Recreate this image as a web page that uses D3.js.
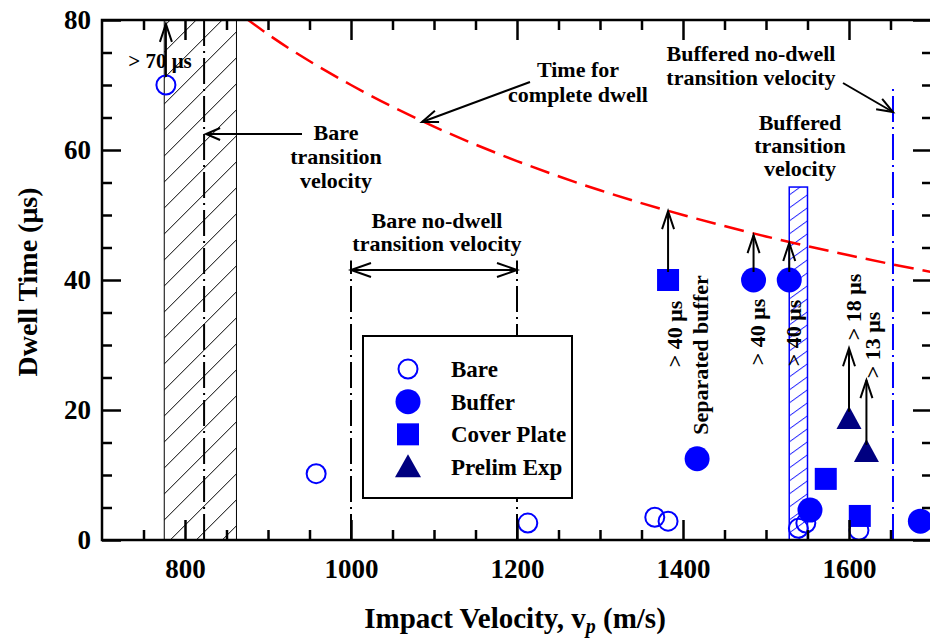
<!DOCTYPE html>
<html>
<head>
<meta charset="utf-8">
<script src="https://cdn.jsdelivr.net/npm/d3@7"></script>
<style>
  body { margin: 0; background: #fff; }
  text { font-family: "Liberation Serif", "Times New Roman", serif; font-weight: bold; }
</style>
</head>
<body>
<svg id="chart"></svg>
<script>
// values
const bareV = [777, 958, 1213, 1366, 1382, 1539, 1548, 1612];
const bareT = [70, 10.2, 2.6, 3.5, 2.9, 1.8, 2.6, 1.5];
const bufferV = [1417, 1485, 1528, 1553, 1686];
const bufferT = [12.5, 40, 40, 4.6, 2.9];
const coverV = [1382, 1572, 1613];
const coverT = [40, 9.4, 3.7];
const prelimV = [1600, 1621];
const prelimT = [18.5, 13.4];

// "time for complete dwell" curve
const dwellCurveV = [876, 900, 1000, 1100, 1200, 1300, 1400, 1500, 1600, 1700];
const dwellCurveT = [80, 77.8, 70, 63.6, 58.3, 53.8, 50, 46.7, 43.8, 41.2];

// lower-bound arrows: start value, top of arrow
const boundV = [777, 1382, 1485, 1528, 1600, 1621];
const boundFrom = [70, 40, 40, 40, 18.5, 13.4];
const boundTo = [79.4, 50.6, 46.9, 45.7, 29.5, 24.6];

const bareBand = [775, 862];
const bareTransition = 823;
const bareNoDwell = [1000, 1200];
const bareNoDwellTop = 43;
const bufferedBand = [1528, 1550];
const bufferedBandTop = 54.3;
const bufferedNoDwell = 1653;
const bufferedNoDwellTop = 70;

const xMajor = [800, 1000, 1200, 1400, 1600];
const xMinor = [750, 850, 900, 950, 1050, 1100, 1150, 1250, 1300, 1350, 1450, 1500, 1550, 1650];
const yMajor = [0, 20, 40, 60, 80];
const yMinor = [5, 10, 15, 25, 30, 35, 45, 50, 55, 65, 70, 75];

const legendNames = ["Bare", "Buffer", "Cover Plate", "Prelim Exp"];

const WIDTH = 930, HEIGHT = 640;
const BLUE = "#0000ff", NAVY = "#000080";

let svg = d3.select("#chart")
  .attr("width", WIDTH)
  .attr("height", HEIGHT);

let x = d3.scaleLinear().domain([700, 1700]).range([102, 932]);
let y = d3.scaleLinear().domain([0, 80]).range([540, 20]);

// hatch patterns
let defs = svg.append("defs");
defs.append("pattern")
  .attr("id", "hatchBlack")
  .attr("patternUnits", "userSpaceOnUse")
  .attr("x", x(bareBand[0])).attr("y", 0)
  .attr("width", 26).attr("height", 26)
.append("path")
  .attr("d", "M-2,2L2,-2M0,26L26,0M24,28L28,24")
  .style("stroke", "black")
  .style("stroke-width", 1);

defs.append("pattern")
  .attr("id", "hatchBlue")
  .attr("patternUnits", "userSpaceOnUse")
  .attr("x", x(bufferedBand[0])).attr("y", 0)
  .attr("width", 18).attr("height", 13)
.append("path")
  .attr("d", "M-2,1.4L2,-1.4M0,13L18,0M16,14.4L20,11.6")
  .style("stroke", BLUE)
  .style("stroke-width", 1);

defs.append("clipPath")
  .attr("id", "plotClip")
.append("rect")
  .attr("x", x(700)).attr("y", y(80))
  .attr("width", x(1700) - x(700)).attr("height", y(0) - y(80));

let plot = svg.append("g").attr("clip-path", "url(#plotClip)");

// bare transition band
plot.append("rect")
  .attr("x", x(bareBand[0]))
  .attr("y", y(80))
  .attr("width", x(bareBand[1]) - x(bareBand[0]))
  .attr("height", y(0) - y(80))
  .style("fill", "url(#hatchBlack)")
  .style("stroke", "black")
  .style("stroke-width", 1);

// buffered transition band
plot.append("rect")
  .attr("x", x(bufferedBand[0]))
  .attr("y", y(bufferedBandTop))
  .attr("width", x(bufferedBand[1]) - x(bufferedBand[0]))
  .attr("height", y(0) - y(bufferedBandTop))
  .style("fill", "url(#hatchBlue)")
  .style("stroke", BLUE)
  .style("stroke-width", 1.5);

// dash-dot lines
const dashDot = "26,5,2,5";
plot.append("line")
  .attr("x1", x(bareTransition)).attr("x2", x(bareTransition))
  .attr("y1", y(0)).attr("y2", y(80))
  .style("stroke", "black").style("stroke-width", 2)
  .style("stroke-dasharray", dashDot);

plot.selectAll(".noDwell")
  .data(bareNoDwell)
.enter().append("line")
  .attr("class", "noDwell")
  .attr("x1", d => x(d)).attr("x2", d => x(d))
  .attr("y1", y(0)).attr("y2", y(bareNoDwellTop))
  .style("stroke", "black").style("stroke-width", 2)
  .style("stroke-dasharray", dashDot);

plot.append("line")
  .attr("x1", x(bufferedNoDwell)).attr("x2", x(bufferedNoDwell))
  .attr("y1", y(0)).attr("y2", y(bufferedNoDwellTop))
  .style("stroke", BLUE).style("stroke-width", 2)
  .style("stroke-dasharray", dashDot);

// complete dwell curve
plot.append("path")
  .datum(dwellCurveV.map((v, i) => [v, dwellCurveT[i]]))
  .attr("d", d3.line().x(d => x(d[0])).y(d => y(d[1])).curve(d3.curveMonotoneX))
  .style("fill", "none")
  .style("stroke", "red")
  .style("stroke-width", 2.5)
  .style("stroke-dasharray", "20,9");

// arrow helper: open V head at (x2, y2)
function arrow(g, x1, y1, x2, y2, len, half) {
  let a = Math.atan2(y2 - y1, x2 - x1);
  let bx = x2 - len * Math.cos(a), by = y2 - len * Math.sin(a);
  let px = -Math.sin(a) * half, py = Math.cos(a) * half;
  g.append("line")
    .attr("x1", x1).attr("y1", y1).attr("x2", x2).attr("y2", y2)
    .style("stroke", "black").style("stroke-width", 2);
  g.append("path")
    .attr("d", "M" + (bx + px) + "," + (by + py) + "L" + x2 + "," + y2 + "L" + (bx - px) + "," + (by - py))
    .style("fill", "none").style("stroke", "black").style("stroke-width", 2);
}

let notes = svg.append("g");

// lower-bound arrows
boundV.forEach((v, i) => {
  arrow(notes, x(v), y(boundFrom[i]) - 8, x(v), y(boundTo[i]), 18, 6);
});

// markers
function trianglePath(w, h) {
  return "M0," + (-h * 0.6) + "L" + (w / 2) + "," + (h * 0.4) + "L" + (-w / 2) + "," + (h * 0.4) + "Z";
}

plot.selectAll(".bare")
  .data(bareV.map((v, i) => [v, bareT[i]]))
.enter().append("circle")
  .attr("class", "bare")
  .attr("cx", d => x(d[0])).attr("cy", d => y(d[1]))
  .attr("r", 9.5)
  .style("fill", "none").style("stroke", BLUE).style("stroke-width", 2);

plot.selectAll(".buffer")
  .data(bufferV.map((v, i) => [v, bufferT[i]]))
.enter().append("circle")
  .attr("class", "buffer")
  .attr("cx", d => x(d[0])).attr("cy", d => y(d[1]))
  .attr("r", 12.5)
  .style("fill", BLUE);

plot.selectAll(".cover")
  .data(coverV.map((v, i) => [v, coverT[i]]))
.enter().append("rect")
  .attr("class", "cover")
  .attr("x", d => x(d[0]) - 11).attr("y", d => y(d[1]) - 11)
  .attr("width", 22).attr("height", 22)
  .style("fill", BLUE);

plot.selectAll(".prelim")
  .data(prelimV.map((v, i) => [v, prelimT[i]]))
.enter().append("path")
  .attr("class", "prelim")
  .attr("transform", d => "translate(" + x(d[0]) + "," + y(d[1]) + ")")
  .attr("d", trianglePath(25, 23))
  .style("fill", NAVY);

// frame and axes
function styleAxis(g) {
  g.select(".domain").remove();
  g.selectAll(".tick line").style("stroke", "black").style("stroke-width", 2.5);
  g.selectAll(".tick text")
    .style("font-family", "'Liberation Serif', 'Times New Roman', serif")
    .style("font-weight", "bold")
    .style("font-size", "27px")
    .style("fill", "black");
}

svg.append("g").attr("transform", "translate(0," + y(0) + ")")
  .call(d3.axisBottom(x).tickValues(xMinor).tickSize(-10).tickFormat(""))
  .call(styleAxis);
svg.append("g").attr("transform", "translate(0," + y(0) + ")")
  .call(d3.axisBottom(x).tickValues(xMajor).tickSize(-20).tickPadding(19).tickFormat(d3.format("d")))
  .call(styleAxis);
svg.append("g").attr("transform", "translate(0," + y(80) + ")")
  .call(d3.axisTop(x).tickValues(xMinor).tickSize(-10).tickFormat(""))
  .call(styleAxis);
svg.append("g").attr("transform", "translate(0," + y(80) + ")")
  .call(d3.axisTop(x).tickValues(xMajor).tickSize(-20).tickFormat(""))
  .call(styleAxis);

svg.append("g").attr("transform", "translate(" + x(700) + ",0)")
  .call(d3.axisLeft(y).tickValues(yMinor).tickSize(-10).tickFormat(""))
  .call(styleAxis);
svg.append("g").attr("transform", "translate(" + x(700) + ",0)")
  .call(d3.axisLeft(y).tickValues(yMajor).tickSize(-19).tickPadding(11).tickFormat(d3.format("d")))
  .call(styleAxis);
svg.append("g").attr("transform", "translate(" + x(1700) + ",0)")
  .call(d3.axisRight(y).tickValues(yMinor).tickSize(-10).tickFormat(""))
  .call(styleAxis);
svg.append("g").attr("transform", "translate(" + x(1700) + ",0)")
  .call(d3.axisRight(y).tickValues(yMajor).tickSize(-19).tickFormat(""))
  .call(styleAxis);

svg.append("rect")
  .attr("x", x(700)).attr("y", y(80))
  .attr("width", x(1700) - x(700)).attr("height", y(0) - y(80))
  .style("fill", "none").style("stroke", "black").style("stroke-width", 2.5);

// axis titles
let xTitle = svg.append("text")
  .attr("x", 515).attr("y", 628)
  .attr("text-anchor", "middle")
  .style("font-size", "29px");
xTitle.append("tspan").text("Impact Velocity, v");
xTitle.append("tspan").attr("dy", 5).style("font-size", "20px").style("font-style", "italic").text("p");
xTitle.append("tspan").attr("dy", -5).text(" (m/s)");

svg.append("text")
  .attr("transform", "translate(37,282) rotate(-90)")
  .attr("text-anchor", "middle")
  .style("font-size", "28px")
  .text("Dwell Time (\u03bcs)");

// annotations
function label(lines, cx, baseline, step, size) {
  lines.forEach((t, i) => {
    notes.append("text")
      .attr("x", cx).attr("y", baseline + i * step)
      .attr("text-anchor", "middle")
      .style("font-size", size + "px")
      .text(t);
  });
}

function vlabel(t, cx, cy) {
  notes.append("text")
    .attr("transform", "translate(" + cx + "," + cy + ") rotate(-90)")
    .attr("text-anchor", "middle")
    .attr("dy", "0.35em")
    .style("font-size", "22px")
    .text(t);
}

label(["> 70 \u03bcs"], 160, 68, 0, 21);
label(["Bare", "transition", "velocity"], 336, 140, 24, 22);
arrow(notes, 302, 134, x(bareTransition) + 2, 134, 14, 6);

label(["Time for", "complete dwell"], 578, 77, 25, 22);
arrow(notes, 530, 82, 422, 122, 16, 6);

label(["Bare no-dwell", "transition velocity"], 437, 228, 23, 22);
arrow(notes, x(bareNoDwell[0]) + 10, 270, x(bareNoDwell[1]), 270, 20, 7);
arrow(notes, x(bareNoDwell[1]) - 10, 270, x(bareNoDwell[0]), 270, 20, 7);

label(["Buffered no-dwell", "transition velocity"], 751, 61, 24, 22);
arrow(notes, 843, 83, x(bufferedNoDwell), 112, 16, 6);

label(["Buffered", "transition", "velocity"], 800, 130, 23, 22);

vlabel("> 40 \u03bcs", 674, 334);
vlabel("Separated buffer", 700, 355);
vlabel("> 40 \u03bcs", 757, 332);
vlabel("> 40 \u03bcs", 793, 333);
vlabel("> 18 \u03bcs", 853, 307);
vlabel("> 13 \u03bcs", 872, 345);

// legend
let legend = svg.append("g");
legend.append("rect")
  .attr("x", 363).attr("y", 336)
  .attr("width", 209).attr("height", 162)
  .style("fill", "white").style("stroke", "black").style("stroke-width", 2);

const rowY = d3.scalePoint().domain(legendNames).range([369, 467]);

legend.append("circle")
  .attr("cx", 408).attr("cy", rowY("Bare")).attr("r", 9.5)
  .style("fill", "none").style("stroke", BLUE).style("stroke-width", 2);
legend.append("circle")
  .attr("cx", 408).attr("cy", rowY("Buffer")).attr("r", 12.5)
  .style("fill", BLUE);
legend.append("rect")
  .attr("x", 397).attr("y", rowY("Cover Plate") - 11)
  .attr("width", 22).attr("height", 22)
  .style("fill", BLUE);
legend.append("path")
  .attr("transform", "translate(408," + (rowY("Prelim Exp") + 1) + ")")
  .attr("d", trianglePath(26, 23))
  .style("fill", NAVY);

legend.selectAll(".legText")
  .data(legendNames)
.enter().append("text")
  .attr("class", "legText")
  .attr("x", 451)
  .attr("y", d => rowY(d))
  .attr("dy", "0.35em")
  .style("font-size", "23px")
  .text(d => d);
</script>
</body>
</html>
